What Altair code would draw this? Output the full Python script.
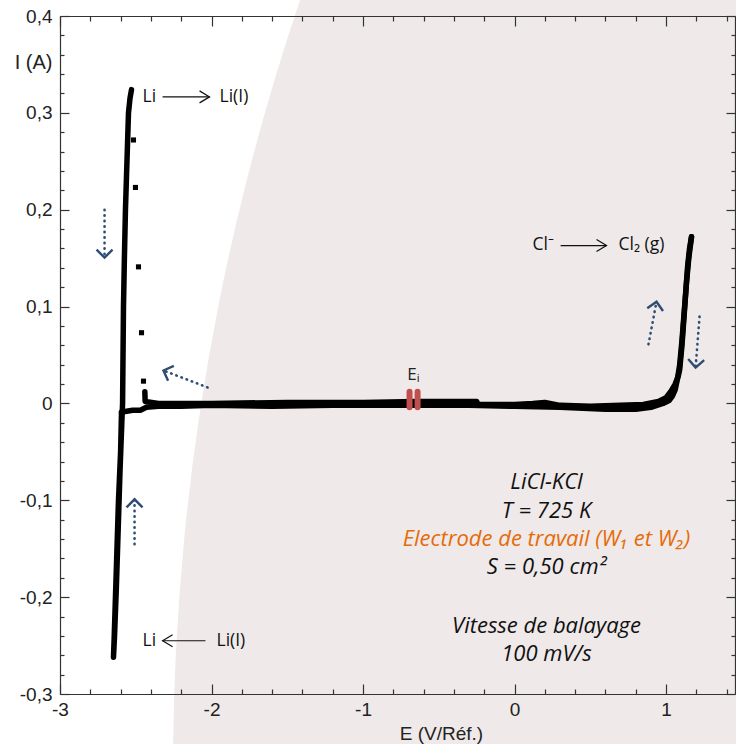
import altair as alt
import pandas as pd

# ---------------- data ----------------
# anodic sweep (Ei -> Cl2 evolution)
fwd_E = [-0.65, -0.40, -0.25, -0.24, 0.00, 0.12, 0.20, 0.30, 0.50, 0.70, 0.85, 0.95, 1.00, 1.03, 1.06, 1.08, 1.09, 1.105, 1.122, 1.142, 1.155, 1.168]
fwd_I = [0.002, 0.002, 0.002, -0.001, -0.001, 0.000, 0.001, -0.002, -0.003, -0.002, -0.001, 0.002, 0.006, 0.012, 0.020, 0.028, 0.035, 0.060, 0.097, 0.141, 0.160, 0.172]
# reverse sweep (Cl2 vertex -> Li deposition)
rev_E = [1.168, 1.150, 1.135, 1.120, 1.105, 1.090, 1.075, 1.060, 1.040, 1.020, 0.98, 0.90, 0.80, 0.60, 0.30, 0.00, -0.30, -0.70, -1.20, -1.60, -2.00, -2.20, -2.35, -2.43, -2.47, -2.52, -2.56, -2.594]
rev_I = [0.172, 0.150, 0.125, 0.095, 0.065, 0.040, 0.025, 0.014, 0.007, 0.003, 0.000, -0.004, -0.006, -0.006, -0.004, -0.003, -0.002, -0.002, -0.002, -0.003, -0.002, -0.003, -0.003, -0.004, -0.007, -0.007, -0.008, -0.009]
# Li deposition / stripping
li_E = [-2.594, -2.600, -2.614, -2.624, -2.634, -2.642, -2.647, -2.640, -2.628, -2.616, -2.604, -2.592, -2.587, -2.581, -2.575, -2.568, -2.558, -2.548, -2.538, -2.528]
li_I = [-0.009, -0.050, -0.100, -0.150, -0.200, -0.240, -0.262, -0.240, -0.190, -0.130, -0.070, -0.020, 0.000, 0.100, 0.150, 0.200, 0.250, 0.300, 0.315, 0.324]
# return to Ei after the stripping peak
back_E = [-2.440, -2.438, -2.350, -2.000, -1.500, -1.000, -0.650]
back_I = [0.012, 0.002, 0.000, 0.000, 0.001, 0.001, 0.002]
# isolated points of the fast current decay
dot_E = [-2.515, -2.502, -2.482, -2.462, -2.449]
dot_I = [0.272, 0.223, 0.141, 0.073, 0.023]

# tick values
x_major = [-3, -2, -1, 0, 1]
x_minor = [-2.8, -2.6, -2.4, -2.2, -1.8, -1.6, -1.4, -1.2, -0.8, -0.6, -0.4, -0.2,
           0.2, 0.4, 0.6, 0.8, 1.2, 1.4]
y_major = [-0.3, -0.2, -0.1, 0.0, 0.1, 0.2, 0.3, 0.4]
y_minor = [round(-0.3 + 0.02 * i, 2) for i in range(36) if i % 5 != 0]

# annotations
rx_text = ["Li", "Li(I)", "Cl\u207b", "Cl\u2082 (g)", "Li", "Li(I)"]
rx_E = [-2.455, -1.947, 0.119, 0.686, -2.455, -1.967]
rx_I = [0.3165, 0.3165, 0.164, 0.164, -0.245, -0.245]
rxarr_E = [-2.323, 0.304, -2.040]
rxarr_E2 = [-2.013, 0.607, -2.323]
rxarr_I = [0.3165, 0.163, -0.245]
rxarr_ang = [0, 0, 180]

sw_E = [-2.706, -2.508, -2.026, 0.884, 1.221]
sw_E2 = [-2.706, -2.508, -2.317, 0.937, 1.195]
sw_I = [0.200, -0.1454, 0.0165, 0.061, 0.0897]
sw_I2 = [0.1505, -0.099, 0.034, 0.105, 0.037]
sw_ang = [90, 270, 201, 280, 94]

ei_E = [-0.693, -0.640]
info_text = ["LiCl-KCl", "T = 725 K", "Electrode de travail (W\u2081 et W\u2082)", "S = 0,50 cm\u00b2", "Vitesse de balayage", "100 mV/s"]
info_I = [-0.0814, -0.111, -0.140, -0.169, -0.230, -0.259]
info_col = ["#111111", "#111111", "#e46c0a", "#111111", "#111111", "#111111"]

# ---------------- tables ----------------
rows = []
for seg, (es, is_) in enumerate([(fwd_E, fwd_I), (rev_E, rev_I), (li_E, li_I), (back_E, back_I)]):
    for k, (e, i) in enumerate(zip(es, is_)):
        rows.append({"E": e, "I": i, "seg": seg, "k": k})
curve = pd.DataFrame(rows)
dots = pd.DataFrame({"E": dot_E, "I": dot_I})
rx = pd.DataFrame({"E": rx_E, "I": rx_I, "t": rx_text})
rxarr = pd.DataFrame({"E": rxarr_E, "E2": rxarr_E2, "I": rxarr_I, "ang": rxarr_ang})
sw = pd.DataFrame({"E": sw_E, "E2": sw_E2, "I": sw_I, "I2": sw_I2, "ang": sw_ang})
ei = pd.DataFrame({"E": ei_E, "Itop": [0.012] * 2, "Ibot": [-0.004] * 2})
eil = pd.DataFrame({"E": [-0.667], "I": [0.029], "t": ["E\u1d62"]})
info = pd.DataFrame({"E": [0.211] * len(info_text), "I": info_I, "t": info_text, "c": info_col})
dummy = pd.DataFrame({"E": [0.0], "I": [0.0]})

xs = alt.Scale(domain=[-3, 1.455], nice=False, zero=False)
ys = alt.Scale(domain=[-0.3, 0.4], nice=False, zero=False)
FONT_AX = "Liberation Sans"
FONT_TX = "Open Sans, Noto Sans, DejaVu Sans"
AXC = "#333333"


def X(field="E", axis=None):
    return alt.X(f"{field}:Q", scale=xs, axis=axis, title=None)


def Y(field="I", axis=None):
    return alt.Y(f"{field}:Q", scale=ys, axis=axis, title=None)


def tick_axis(orient, values, size):
    return alt.Axis(orient=orient, values=values, ticks=True, tickSize=size, offset=-size,
                    tickColor=AXC, tickWidth=1.2, domain=False, labels=False, grid=False,
                    title=None, zindex=1)


def frame_axis(orient):
    return alt.Axis(orient=orient, ticks=False, labels=False, domain=True, domainColor=AXC,
                    domainWidth=1.2, grid=False, title=None, zindex=1)


x_lab = alt.Axis(orient="bottom", values=x_major, ticks=False, domain=True, domainColor=AXC,
                 domainWidth=1.2, grid=False, labelFont=FONT_AX, labelFontSize=19,
                 labelColor="#222222", labelPadding=6, labelFlush=False, labelOverlap=False,
                 labelExpr="datum.value == 0 ? '0' : (datum.value < 0 ? '-' : '') + abs(datum.value)",
                 title="E (V/Réf.)", titleFont=FONT_AX, titleFontSize=19, titleFontWeight="normal",
                 titleColor="#222222", titleX=381, titleY=39, titleAlign="center",
                 titleBaseline="middle", zindex=1)
y_lab = alt.Axis(orient="left", values=y_major, ticks=False, domain=True, domainColor=AXC,
                 domainWidth=1.2, grid=False, labelFont=FONT_AX, labelFontSize=19,
                 labelColor="#222222", labelPadding=8, labelOverlap=False, labelFlush=False,
                 labelExpr="datum.value == 0 ? '0' : (datum.value < 0 ? '-' : '') + replace(format(abs(datum.value), '.1f'), '.', ',')",
                 title="I (A)", titleFont=FONT_AX, titleFontSize=20, titleFontWeight="normal",
                 titleColor="#222222", titleAngle=0, titleX=-8, titleY=46, titleAlign="right",
                 titleBaseline="middle", zindex=1)

# background disc (decoration of the slide)
bg = alt.Chart(pd.DataFrame({"a": [1]})).mark_arc(
    radius=2396, theta=0, theta2=6.2832, color="#efe9e9"
).encode(x=alt.value(2509), y=alt.value(754))

base = alt.Chart(dummy).mark_point(opacity=0)
ax1 = base.encode(x=X(axis=x_lab), y=Y(axis=y_lab))
ax2 = base.encode(x=X(axis=frame_axis("top")), y=Y(axis=frame_axis("right")))
ax3 = base.encode(x=X(axis=tick_axis("bottom", x_major, 10)), y=Y(axis=tick_axis("left", y_major, 9)))
ax4 = base.encode(x=X(axis=tick_axis("bottom", x_minor, 5)), y=Y(axis=tick_axis("left", y_minor, 4)))
ax5 = base.encode(x=X(axis=tick_axis("top", x_major, 10)), y=Y(axis=tick_axis("right", y_major, 9)))
ax6 = base.encode(x=X(axis=tick_axis("top", x_minor, 5)), y=Y(axis=tick_axis("right", y_minor, 4)))

line = alt.Chart(curve).mark_line(color="black", strokeWidth=5.5, strokeCap="round",
                                  strokeJoin="round").encode(
    x=X(), y=Y(), detail="seg:N", order="k:Q")
pts = alt.Chart(dots).mark_square(size=26, color="black", opacity=1).encode(x=X(), y=Y())

ei_bars = alt.Chart(ei).mark_rule(color="#c0504d", strokeWidth=6, strokeCap="round").encode(
    x=X(), y=Y("Itop"), y2="Ibot:Q")
ei_lab = alt.Chart(eil).mark_text(font=FONT_TX, fontSize=17, color="#222222",
                                  baseline="middle", align="center").encode(
    x=X(), y=Y(), text="t:N")

rx_txt = alt.Chart(rx).mark_text(font=FONT_TX, fontSize=17.5, color="#111111", align="left",
                                 baseline="middle").encode(x=X(), y=Y(), text="t:N")
rx_line = alt.Chart(rxarr).mark_rule(color="#111111", strokeWidth=1.2).encode(
    x=X(), x2="E2:Q", y=Y())
rx_head = alt.Chart(rxarr).mark_point(shape="M-1,-0.6L0,0L-1,0.6", size=400, filled=False,
                                      color="#111111", strokeWidth=1.2, opacity=1).encode(
    x=X("E2"), y=Y(), angle=alt.Angle("ang:Q", scale=None))

sw_line = alt.Chart(sw).mark_rule(color="#2f4d73", strokeWidth=2.6, strokeDash=[0.5, 5],
                                  strokeCap="round").encode(
    x=X(), x2="E2:Q", y=Y(), y2="I2:Q")
sw_head = alt.Chart(sw).mark_point(shape="M-1,-1L0,0L-1,1", size=256, filled=False,
                                   color="#2f4d73", strokeWidth=2.4, opacity=1).encode(
    x=X("E2"), y=Y("I2"), angle=alt.Angle("ang:Q", scale=None))

info_txt = alt.Chart(info).mark_text(font=FONT_TX, fontSize=22, fontStyle="italic",
                                     align="center", baseline="middle").encode(
    x=X(), y=Y(), text="t:N", color=alt.Color("c:N", scale=None))

chart = alt.layer(
    bg, ax1, ax2, ax3, ax4, ax5, ax6, line, pts, ei_bars, ei_lab, rx_txt, rx_line, rx_head,
    sw_line, sw_head, info_txt
).resolve_axis(x="independent", y="independent").properties(
    width=675, height=678,
    padding={"left": 60, "top": 16, "right": 1, "bottom": 50},
    autosize=alt.AutoSizeParams(type="none"),
    background="white",
).configure_view(stroke=None)

chart.save("out.html", embed_options={"renderer": "svg", "actions": False})
